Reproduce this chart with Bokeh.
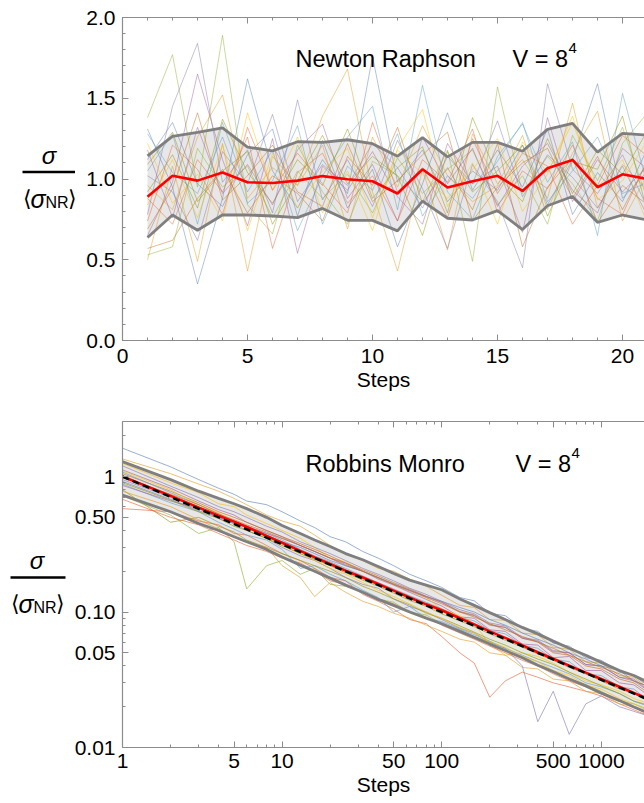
from bokeh.plotting import figure
from bokeh.layouts import column, row
from bokeh.models import (SingleIntervalTicker, FixedTicker, NumeralTickFormatter,
                          CustomJSTickFormatter, LinearAxis, LogAxis, Label,
                          CustomLabelingPolicy)
from bokeh.core.properties import value
from bokeh.embed import file_html
from bokeh.resources import INLINE

FONT = "Liberation Sans"
AX = "#8c8c8c"

# ---------------- Newton Raphson panel data ----------------
NR_STEPS = [1, 2, 3, 4, 5, 6, 7, 8, 9, 10, 11, 12, 13, 14, 15, 16, 17, 18, 19, 20, 21]
NR_MEAN = [0.89, 1.02, 0.99, 1.04, 0.98, 0.975, 0.99, 1.018, 0.998, 0.986, 0.91, 1.06,
           0.947, 0.986, 1.02, 0.926, 1.067, 1.118, 0.949, 1.029, 1.0]
NR_UPPER = [1.143, 1.264, 1.288, 1.317, 1.198, 1.174, 1.231, 1.227, 1.243, 1.219, 1.141,
            1.256, 1.137, 1.227, 1.227, 1.172, 1.307, 1.344, 1.166, 1.282, 1.272]
NR_LOWER = [0.638, 0.777, 0.683, 0.777, 0.777, 0.771, 0.761, 0.818, 0.744, 0.744, 0.679,
            0.863, 0.757, 0.746, 0.804, 0.687, 0.834, 0.892, 0.732, 0.777, 0.746]

NR_RUN_01 = [1.31, 0.95, 0.35, 0.88, 1.62, 1.05, 0.82, 1.12, 0.91, 1.76, 0.98, 1.18, 0.86, 1.05, 0.93, 1.21, 0.84, 1.12, 1.59, 0.88, 1.05]
NR_RUN_02 = [0.50, 1.08, 0.49, 1.22, 0.43, 1.14, 0.96, 1.39, 1.68, 0.92, 0.43, 1.06, 0.56, 1.28, 0.97, 1.12, 0.88, 1.47, 0.82, 1.09, 0.93]
NR_RUN_03 = [1.38, 1.77, 0.95, 1.89, 0.84, 0.66, 1.21, 0.92, 0.72, 1.11, 1.02, 0.86, 1.18, 0.49, 1.57, 0.91, 1.14, 0.97, 0.74, 1.22, 1.41]
NR_RUN_04 = [0.78, 1.45, 1.84, 0.98, 1.18, 0.79, 1.49, 0.87, 1.12, 0.83, 1.24, 0.94, 0.57, 1.09, 0.86, 0.45, 1.59, 1.06, 0.91, 1.15, 0.82]
NR_RUN_05 = [0.88, 0.72, 1.12, 0.92, 1.26, 0.57, 1.04, 1.16, 0.85, 1.02, 0.74, 1.12, 0.98, 1.31, 0.79, 1.05, 0.94, 1.21, 0.88, 0.78, 1.12]
NR_RUN_06 = [1.05, 1.28, 0.72, 1.35, 0.92, 1.18, 0.68, 1.02, 1.26, 1.45, 0.81, 1.58, 0.92, 0.75, 1.14, 1.34, 0.98, 1.23, 0.65, 1.53, 0.96]
NR_RUN_07 = [0.65, 0.98, 1.65, 1.12, 0.71, 1.25, 0.54, 1.08, 0.93, 1.17, 0.89, 0.72, 1.22, 0.97, 1.08, 0.67, 1.38, 0.86, 1.12, 0.92, 1.08]
NR_RUN_08 = [1.22, 0.85, 1.03, 0.74, 1.41, 0.93, 1.26, 0.79, 1.05, 0.68, 1.19, 1.43, 0.83, 1.10, 0.72, 1.23, 1.04, 1.35, 0.95, 1.12, 0.72]
NR_RUN_09 = [0.92, 1.15, 0.82, 1.37, 1.04, 0.85, 1.12, 0.96, 1.31, 0.88, 1.07, 1.20, 0.79, 1.38, 1.02, 0.86, 1.25, 0.91, 1.18, 1.03, 1.30]
NR_RUN_10 = [0.57, 0.62, 0.88, 1.06, 0.79, 1.02, 0.91, 0.74, 1.14, 0.96, 1.32, 0.85, 1.07, 0.81, 1.22, 0.58, 0.95, 1.13, 0.73, 0.96, 0.84]
NR_RUN_11 = [1.12, 1.35, 0.97, 0.83, 1.15, 1.31, 0.77, 1.24, 0.82, 1.06, 0.58, 0.97, 1.41, 0.93, 1.18, 0.95, 1.31, 0.78, 1.04, 0.86, 1.19]
NR_RUN_12 = [0.96, 0.81, 1.26, 1.52, 0.88, 1.07, 0.96, 1.21, 0.69, 1.26, 0.95, 1.33, 1.02, 0.86, 0.96, 1.27, 0.81, 1.16, 1.42, 0.74, 1.03]
NR_RUN_13 = [0.53, 0.58, 1.19, 0.95, 1.08, 0.76, 1.05, 0.88, 1.03, 0.79, 1.13, 0.91, 1.06, 1.18, 0.84, 1.02, 0.72, 1.27, 0.99, 1.32, 0.87]
NR_RUN_14 = [1.02, 0.92, 0.62, 1.17, 0.97, 1.40, 0.86, 1.09, 0.96, 1.22, 1.07, 0.82, 1.14, 0.97, 1.36, 0.89, 1.15, 1.01, 0.82, 1.08, 0.77]
NR_RUN_15 = [0.74, 1.21, 1.06, 0.78, 1.32, 0.93, 1.16, 0.97, 0.79, 1.35, 0.92, 1.07, 0.76, 1.25, 0.91, 1.16, 1.08, 0.72, 0.96, 1.27, 1.14]
NR_RUN_16 = [1.28, 1.04, 0.91, 1.26, 0.85, 0.99, 1.33, 0.72, 1.08, 0.93, 1.28, 0.77, 1.02, 0.88, 1.11, 1.35, 0.86, 1.05, 1.26, 0.91, 0.98]
NR_RUN_17 = [1.18, 0.76, 1.32, 0.91, 1.09, 0.84, 1.18, 1.34, 0.88, 1.09, 0.74, 1.26, 0.97, 1.19, 0.83, 1.08, 1.22, 0.93, 0.79, 1.19, 1.06]
NR_RUN_18 = [0.84, 1.12, 0.76, 1.21, 0.68, 1.16, 0.82, 1.05, 1.19, 0.76, 1.18, 1.03, 0.88, 1.06, 1.25, 0.80, 1.03, 1.39, 0.87, 0.99, 1.24]
NR_RUN_19 = [1.09, 1.29, 0.86, 1.05, 1.17, 0.72, 0.99, 1.27, 0.97, 1.14, 1.02, 0.65, 1.17, 0.92, 1.05, 1.21, 0.77, 1.11, 1.06, 1.39, 0.79]
NR_RUN_20 = [0.69, 0.94, 1.41, 0.87, 1.02, 1.21, 0.92, 0.83, 1.22, 0.86, 0.99, 1.15, 1.29, 0.74, 0.95, 1.10, 1.19, 0.88, 1.14, 0.81, 1.11]

NR_RUNS = [NR_RUN_01, NR_RUN_02, NR_RUN_03, NR_RUN_04, NR_RUN_05, NR_RUN_06, NR_RUN_07,
           NR_RUN_08, NR_RUN_09, NR_RUN_10, NR_RUN_11, NR_RUN_12, NR_RUN_13, NR_RUN_14,
           NR_RUN_15, NR_RUN_16, NR_RUN_17, NR_RUN_18, NR_RUN_19, NR_RUN_20]

# ---------------- Robbins Monro panel data ----------------
RM_STEPS = [1, 2, 3, 4, 5, 6, 8, 10, 13, 16, 20, 25, 32, 40, 50, 63, 80, 100, 130, 160,
            200, 250, 320, 400, 500, 630, 800, 1000, 1300, 1600, 2000]
RM_MEAN = [1.0, 0.72, 0.59, 0.515, 0.465, 0.425, 0.365, 0.325, 0.283, 0.253, 0.226, 0.202,
           0.180, 0.161, 0.144, 0.128, 0.114, 0.103, 0.090, 0.081, 0.072, 0.0645, 0.0568,
           0.0505, 0.0452, 0.0402, 0.0357, 0.0320, 0.0281, 0.0253, 0.0226]
RM_UPPER = [1.29, 0.95, 0.78, 0.69, 0.63, 0.58, 0.50, 0.435, 0.38, 0.34, 0.305, 0.27, 0.243,
            0.217, 0.193, 0.172, 0.158, 0.146, 0.125, 0.112, 0.099, 0.088, 0.077, 0.069,
            0.061, 0.054, 0.048, 0.0425, 0.037, 0.034, 0.030]
RM_LOWER = [0.73, 0.55, 0.45, 0.40, 0.36, 0.33, 0.29, 0.255, 0.222, 0.20, 0.178, 0.158, 0.14,
            0.124, 0.112, 0.10, 0.09, 0.082, 0.072, 0.065, 0.058, 0.052, 0.046, 0.0405,
            0.0362, 0.032, 0.0285, 0.0252, 0.0222, 0.0199, 0.0178]
RM_FIT_STEPS = [1, 2000]
RM_FIT = [1.0, 0.02236]

RM_RUN_01 = [1.62, 1.18, 0.95, 0.82, 0.74, 0.66, 0.62, 0.55, 0.47, 0.42, 0.36, 0.33, 0.28, 0.25, 0.22, 0.19, 0.17, 0.152, 0.128, 0.121, 0.098, 0.094, 0.076, 0.072, 0.059, 0.056, 0.046, 0.044, 0.036, 0.034, 0.028]
RM_RUN_02 = [1.35, 1.05, 0.88, 0.78, 0.69, 0.62, 0.52, 0.47, 0.43, 0.37, 0.31, 0.27, 0.24, 0.21, 0.2, 0.175, 0.155, 0.133, 0.112, 0.108, 0.088, 0.087, 0.07, 0.068, 0.055, 0.053, 0.043, 0.042, 0.034, 0.033, 0.027]
RM_RUN_03 = [0.72, 0.52, 0.38, 0.42, 0.33, 0.148, 0.22, 0.24, 0.19, 0.21, 0.16, 0.155, 0.14, 0.125, 0.118, 0.1, 0.095, 0.082, 0.074, 0.066, 0.06, 0.052, 0.047, 0.041, 0.037, 0.032, 0.029, 0.026, 0.022, 0.021, 0.019]
RM_RUN_04 = [0.95, 0.7, 0.6, 0.49, 0.45, 0.4, 0.35, 0.3, 0.26, 0.24, 0.21, 0.18, 0.16, 0.15, 0.125, 0.11, 0.1, 0.088, 0.076, 0.07, 0.06, 0.054, 0.04, 0.0155, 0.026, 0.0125, 0.021, 0.024, 0.02, 0.0185, 0.017]
RM_RUN_05 = [0.58, 0.55, 0.47, 0.44, 0.38, 0.37, 0.31, 0.27, 0.24, 0.21, 0.18, 0.17, 0.135, 0.12, 0.105, 0.088, 0.082, 0.066, 0.05, 0.042, 0.0235, 0.031, 0.036, 0.033, 0.03, 0.028, 0.026, 0.024, 0.021, 0.019, 0.017]
RM_RUN_06 = [0.88, 0.64, 0.55, 0.46, 0.41, 0.37, 0.34, 0.29, 0.21, 0.22, 0.19, 0.17, 0.145, 0.128, 0.1, 0.11, 0.09, 0.085, 0.075, 0.068, 0.061, 0.054, 0.048, 0.043, 0.039, 0.035, 0.03, 0.028, 0.025, 0.022, 0.02]
RM_RUN_07 = [1.12, 0.82, 0.66, 0.57, 0.52, 0.46, 0.4, 0.36, 0.31, 0.28, 0.25, 0.22, 0.2, 0.175, 0.158, 0.14, 0.124, 0.111, 0.092, 0.09, 0.074, 0.072, 0.058, 0.057, 0.046, 0.047, 0.037, 0.037, 0.03, 0.029, 0.024]
RM_RUN_08 = [1.25, 0.9, 0.76, 0.63, 0.6, 0.52, 0.45, 0.4, 0.35, 0.3, 0.25, 0.235, 0.2, 0.18, 0.16, 0.145, 0.128, 0.105, 0.094, 0.082, 0.058, 0.048, 0.05, 0.047, 0.042, 0.036, 0.031, 0.029, 0.026, 0.023, 0.021]
RM_RUN_09 = [0.8, 0.46, 0.5, 0.43, 0.39, 0.34, 0.3, 0.27, 0.24, 0.22, 0.2, 0.18, 0.155, 0.14, 0.125, 0.113, 0.098, 0.09, 0.079, 0.071, 0.063, 0.057, 0.05, 0.045, 0.041, 0.036, 0.032, 0.0285, 0.025, 0.022, 0.0205]
RM_RUN_10 = [1.05, 0.78, 0.64, 0.55, 0.5, 0.46, 0.4, 0.36, 0.32, 0.29, 0.26, 0.23, 0.205, 0.185, 0.165, 0.148, 0.131, 0.118, 0.101, 0.095, 0.081, 0.077, 0.064, 0.06, 0.05, 0.048, 0.04, 0.038, 0.032, 0.03, 0.025]
RM_RUN_11 = [0.92, 0.68, 0.56, 0.5, 0.45, 0.42, 0.37, 0.33, 0.3, 0.27, 0.24, 0.22, 0.2, 0.18, 0.162, 0.145, 0.13, 0.12, 0.108, 0.1, 0.088, 0.08, 0.07, 0.063, 0.057, 0.05, 0.045, 0.04, 0.037, 0.031, 0.028]
RM_RUN_12 = [0.78, 0.6, 0.48, 0.41, 0.36, 0.33, 0.3, 0.22, 0.18, 0.13, 0.165, 0.14, 0.12, 0.11, 0.098, 0.09, 0.08, 0.072, 0.063, 0.06, 0.05, 0.048, 0.039, 0.038, 0.032, 0.031, 0.026, 0.025, 0.021, 0.02, 0.017]
RM_RUN_13 = [1.0, 0.73, 0.6, 0.52, 0.46, 0.42, 0.36, 0.32, 0.28, 0.255, 0.23, 0.205, 0.18, 0.16, 0.143, 0.128, 0.114, 0.102, 0.089, 0.08, 0.072, 0.064, 0.057, 0.051, 0.045, 0.04, 0.036, 0.032, 0.028, 0.025, 0.0225]
RM_RUN_14 = [1.2, 0.85, 0.7, 0.6, 0.55, 0.5, 0.43, 0.39, 0.33, 0.3, 0.27, 0.24, 0.21, 0.19, 0.17, 0.15, 0.135, 0.12, 0.104, 0.097, 0.083, 0.079, 0.065, 0.062, 0.052, 0.05, 0.041, 0.04, 0.033, 0.031, 0.026]
RM_RUN_15 = [0.68, 0.5, 0.44, 0.38, 0.34, 0.31, 0.28, 0.25, 0.23, 0.2, 0.17, 0.16, 0.14, 0.125, 0.115, 0.1, 0.092, 0.08, 0.07, 0.063, 0.056, 0.05, 0.044, 0.04, 0.035, 0.031, 0.028, 0.025, 0.022, 0.02, 0.018]
RM_RUN_16 = [1.08, 0.76, 0.62, 0.53, 0.47, 0.43, 0.38, 0.34, 0.29, 0.26, 0.235, 0.21, 0.185, 0.165, 0.148, 0.132, 0.118, 0.106, 0.091, 0.086, 0.073, 0.069, 0.057, 0.054, 0.045, 0.043, 0.035, 0.034, 0.028, 0.027, 0.022]
RM_RUN_17 = [0.86, 0.66, 0.58, 0.5, 0.47, 0.43, 0.38, 0.35, 0.31, 0.28, 0.25, 0.23, 0.2, 0.18, 0.16, 0.145, 0.13, 0.118, 0.1, 0.094, 0.08, 0.077, 0.064, 0.061, 0.051, 0.05, 0.041, 0.04, 0.033, 0.032, 0.026]
RM_RUN_18 = [1.1, 0.8, 0.62, 0.54, 0.46, 0.42, 0.35, 0.31, 0.27, 0.24, 0.21, 0.19, 0.165, 0.145, 0.13, 0.115, 0.1, 0.09, 0.077, 0.07, 0.06, 0.055, 0.047, 0.043, 0.037, 0.034, 0.029, 0.027, 0.023, 0.021, 0.0185]
RM_RUN_19 = [0.9, 0.67, 0.55, 0.49, 0.43, 0.4, 0.35, 0.31, 0.27, 0.245, 0.22, 0.195, 0.172, 0.155, 0.138, 0.122, 0.11, 0.097, 0.086, 0.078, 0.069, 0.062, 0.055, 0.049, 0.044, 0.039, 0.035, 0.031, 0.027, 0.025, 0.022]
RM_RUN_20 = [1.0, 0.74, 0.62, 0.53, 0.48, 0.44, 0.39, 0.35, 0.31, 0.28, 0.25, 0.225, 0.2, 0.178, 0.16, 0.143, 0.128, 0.115, 0.1, 0.092, 0.082, 0.074, 0.066, 0.06, 0.054, 0.048, 0.043, 0.039, 0.035, 0.031, 0.028]

RM_RUNS = [RM_RUN_01, RM_RUN_02, RM_RUN_03, RM_RUN_04, RM_RUN_05, RM_RUN_06, RM_RUN_07,
           RM_RUN_08, RM_RUN_09, RM_RUN_10, RM_RUN_11, RM_RUN_12, RM_RUN_13, RM_RUN_14,
           RM_RUN_15, RM_RUN_16, RM_RUN_17, RM_RUN_18, RM_RUN_19, RM_RUN_20]

PALETTE = ["#5E81B5", "#E19C24", "#8FB032", "#8778B3", "#EB6235", "#5D9EC7", "#A5609D",
           "#FFBF00", "#929600", "#C56E1A"]

X_TICKS_LOG = [1, 5, 10, 50, 100, 500, 1000]
X_MINOR_LOG = [2, 3, 4, 6, 7, 8, 9, 20, 30, 40, 60, 70, 80, 90, 200, 300, 400, 600, 700,
               800, 900, 2000]
Y_TICKS_LOG = [0.01, 0.05, 0.1, 0.5, 1]
Y_MINOR_LOG = [0.02, 0.03, 0.04, 0.06, 0.07, 0.08, 0.09, 0.2, 0.3, 0.4, 0.6, 0.7, 0.8,
               0.9, 2]

NO_LABELS = CustomLabelingPolicy(code="return new Set()")

FRAME_LEFT = 122    # page pixel where both plot frames start
LAB_W_TOP = 75      # width of the side canvas holding the horizontal y label (top)
LAB_W_BOT = 68      # same for the bottom panel (wider tick labels there)
TICK_FS = "21px"


def style_axis(ax, labels=True):
    ax.axis_line_color = AX
    ax.axis_line_width = 1.2
    ax.major_tick_line_color = AX
    ax.minor_tick_line_color = AX
    ax.major_tick_in = 6
    ax.major_tick_out = 0
    ax.minor_tick_in = 3
    ax.minor_tick_out = 0
    ax.major_label_text_font = FONT
    ax.major_label_text_color = "black"
    ax.major_label_text_font_size = TICK_FS
    if not labels:
        ax.major_label_policy = NO_LABELS
        ax.major_label_standoff = 0
    ax.axis_label_text_font = FONT
    ax.axis_label_text_font_size = TICK_FS
    ax.axis_label_text_font_style = "normal"
    ax.axis_label_text_color = "black"


def add_label(p, x, y, text, size, italic=False, align="left", baseline="alphabetic"):
    p.add_layout(Label(x=x, y=y, text=text, text_font=FONT, text_font_size=size,
                       text_font_style="italic" if italic else "normal",
                       text_align=align, text_baseline=baseline, text_color="black"))


def label_panel(width, height, top, bottom, b_top, b_bottom, parts, bar):
    """Side canvas in page-pixel coordinates; its frame spans the same rows as the plot frame."""
    q = figure(width=width, height=height, x_range=(0, width), y_range=(bottom, top),
               output_backend="svg", toolbar_location=None, title=None,
               min_border_left=0, min_border_right=0,
               min_border_top=b_top, min_border_bottom=b_bottom,
               x_axis_location=None, y_axis_location=None)
    q.outline_line_color = None
    q.grid.visible = False
    for (x, y, txt, size, italic, align) in parts:
        q.text(x=[x], y=[y], text=[txt], text_font=value(FONT), text_font_size=size,
               text_font_style="italic" if italic else "normal",
               text_align=align, text_baseline="middle", text_color="black")
    q.segment(x0=[bar[0]], y0=[bar[2]], x1=[bar[1]], y1=[bar[2]], line_color="black",
              line_width=2.6)
    return q


# ---------------- Top figure ----------------
X0, XS = 122.0, 25.0        # pixel of x=0 and pixels per step
Y0, YS = 340.0, 163.0       # pixel of y=0 and pixels per unit


def tx(px):
    return (px - X0) / XS


def ty(py):
    return (Y0 - py) / YS


p1 = figure(width=644 - LAB_W_TOP, height=400, x_range=(0, 20.88), y_range=(0, 2.0),
            output_backend="svg", toolbar_location=None,
            min_border_left=FRAME_LEFT - LAB_W_TOP, min_border_right=0, min_border_top=14,
            min_border_bottom=60)
p1.outline_line_color = None
p1.xgrid.visible = False
p1.ygrid.visible = False

p1.xaxis.ticker = SingleIntervalTicker(interval=5, num_minor_ticks=5)
p1.yaxis.ticker = SingleIntervalTicker(interval=0.5, num_minor_ticks=5)
p1.yaxis.formatter = NumeralTickFormatter(format="0.0")
p1.xaxis.axis_label = "Steps"
for ax in p1.xaxis + p1.yaxis:
    style_axis(ax)
p1.xaxis.major_label_standoff = 8
p1.xaxis.axis_label_standoff = 2
p1.yaxis.major_label_standoff = 7
top_ax = LinearAxis(ticker=SingleIntervalTicker(interval=5, num_minor_ticks=5))
style_axis(top_ax, labels=False)
p1.add_layout(top_ax, "above")

p1.varea(x=NR_STEPS, y1=NR_LOWER, y2=NR_UPPER, fill_color="#d4d4d4", fill_alpha=0.55)
p1.multi_line(xs=[NR_STEPS] * len(NR_RUNS), ys=NR_RUNS,
              line_color=[PALETTE[i % len(PALETTE)] for i in range(len(NR_RUNS))],
              line_alpha=0.6, line_width=0.8)
p1.line(NR_STEPS, NR_UPPER, line_color="#7f7f7f", line_width=2.8)
p1.line(NR_STEPS, NR_LOWER, line_color="#7f7f7f", line_width=2.8)
p1.line(NR_STEPS, NR_MEAN, line_color="#ff0000", line_width=2.6)

add_label(p1, tx(295), ty(56), "Newton Raphson", "23.5px")
add_label(p1, tx(512), ty(56), "V = 8", "23.5px")
add_label(p1, tx(568), ty(45), "4", "15px")

lab1 = label_panel(LAB_W_TOP, 400, 14, 340, 14, 60,
                   [(48.5, 153, "\u03c3", "24px", True, "center"),
                    (22, 197, "\u27e8", "22px", False, "left"),
                    (30, 197, "\u03c3", "25px", True, "left"),
                    (45, 201, "NR", "16px", False, "left"),
                    (67, 197, "\u27e9", "22px", False, "left")],
                   (22, 77, 170))

# ---------------- Bottom figure ----------------
LX0, LXS = 122.0, 159.6     # pixel of step 1, pixels per decade
LY1, LYS = 476.0, 135.3     # pixel of y=1, pixels per decade


def bx(px):
    return 10 ** ((px - LX0) / LXS)


def by(py):
    return 10 ** ((LY1 - py) / LYS)


p2 = figure(width=644 - LAB_W_BOT, height=403, x_axis_type="log", y_axis_type="log",
            x_range=(1, 1866), y_range=(0.01, 2.55),
            output_backend="svg", toolbar_location=None,
            min_border_left=FRAME_LEFT - LAB_W_BOT, min_border_right=0, min_border_top=21,
            min_border_bottom=56)
p2.outline_line_color = None
p2.xgrid.visible = False
p2.ygrid.visible = False

p2.xaxis.ticker = FixedTicker(ticks=X_TICKS_LOG, minor_ticks=X_MINOR_LOG)
p2.yaxis.ticker = FixedTicker(ticks=Y_TICKS_LOG, minor_ticks=Y_MINOR_LOG)
p2.xaxis.formatter = CustomJSTickFormatter(code="return tick.toFixed(0);")
p2.yaxis.formatter = CustomJSTickFormatter(code="return tick >= 1 ? tick.toFixed(0) : tick.toFixed(2);")
p2.xaxis.axis_label = "Steps"
for ax in p2.xaxis + p2.yaxis:
    style_axis(ax)
p2.xaxis.major_label_standoff = 6
p2.xaxis.axis_label_standoff = 2
p2.yaxis.major_label_standoff = 7
top_ax2 = LogAxis(ticker=FixedTicker(ticks=X_TICKS_LOG, minor_ticks=X_MINOR_LOG))
style_axis(top_ax2, labels=False)
p2.add_layout(top_ax2, "above")

p2.varea(x=RM_STEPS, y1=RM_LOWER, y2=RM_UPPER, fill_color="#d4d4d4", fill_alpha=0.55)
p2.multi_line(xs=[RM_STEPS] * len(RM_RUNS), ys=RM_RUNS,
              line_color=[PALETTE[i % len(PALETTE)] for i in range(len(RM_RUNS))],
              line_alpha=0.7, line_width=0.9)
p2.line(RM_STEPS, RM_UPPER, line_color="#7f7f7f", line_width=2.8)
p2.line(RM_STEPS, RM_LOWER, line_color="#7f7f7f", line_width=2.8)
p2.line(RM_STEPS, RM_MEAN, line_color="#ff0000", line_width=2.6)
p2.line(RM_FIT_STEPS, RM_FIT, line_color="black", line_width=2.4, line_dash="7 4")

add_label(p2, bx(305), by(463), "Robbins Monro", "23.5px")
add_label(p2, bx(515), by(463), "V = 8", "23.5px")
add_label(p2, bx(571), by(452), "4", "15px")

lab2 = label_panel(LAB_W_BOT, 403, 421, 747, 21, 56,
                   [(36.5, 560, "\u03c3", "24px", True, "center"),
                    (10, 603, "\u27e8", "22px", False, "left"),
                    (18, 603, "\u03c3", "25px", True, "left"),
                    (33, 607, "NR", "16px", False, "left"),
                    (55, 603, "\u27e9", "22px", False, "left")],
                   (10, 65, 577))

layout = column(row(lab1, p1, spacing=0), row(lab2, p2, spacing=0), spacing=0)
open("out.html", "w").write(file_html(layout, INLINE))
